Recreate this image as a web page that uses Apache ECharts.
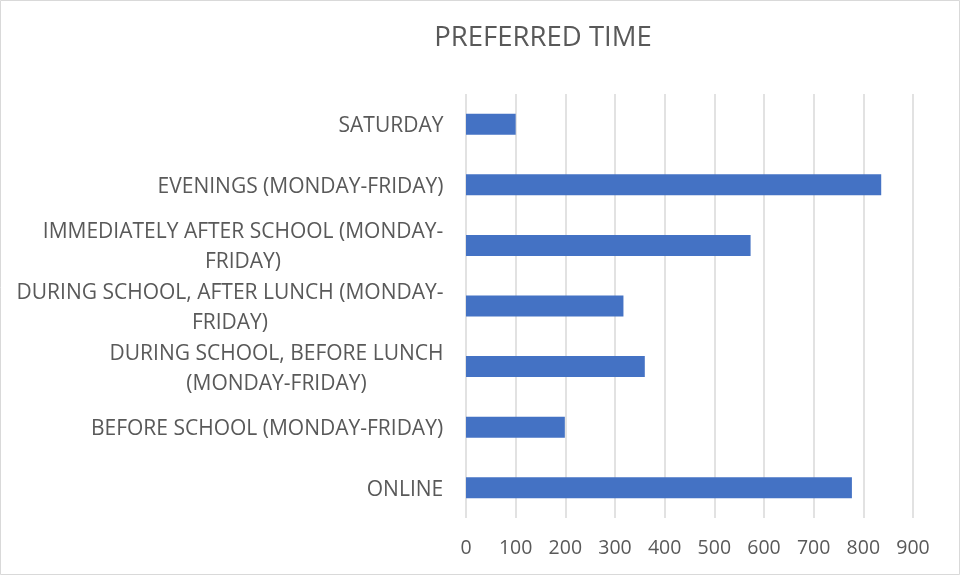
<!DOCTYPE html>
<html><head><meta charset="utf-8">
<script src="https://cdn.jsdelivr.net/npm/echarts@6/dist/echarts.min.js"></script>
<style>html,body{margin:0;padding:0;background:#fff}#c{width:961px;height:576px}</style>
</head><body><div id="c"></div>
<script>
const categories = [
  "ONLINE",
  "BEFORE SCHOOL (MONDAY-FRIDAY)",
  "DURING SCHOOL, BEFORE LUNCH\n(MONDAY-FRIDAY)",
  "DURING SCHOOL, AFTER LUNCH (MONDAY-\nFRIDAY)",
  "IMMEDIATELY AFTER SCHOOL (MONDAY-\nFRIDAY)",
  "EVENINGS (MONDAY-FRIDAY)",
  "SATURDAY"
];
const values = [777, 199, 360, 317, 573, 836, 100];
const xTicks = { min: 0, max: 900, interval: 100 };
const titleText = "PREFERRED TIME";

const font = "'Open Sans', Lato, sans-serif";
const labelSize = 21;
const ctx = document.createElement('canvas').getContext('2d');
ctx.font = labelSize + "px 'Open Sans'";
const rich = {};
categories.forEach((c, i) => {
  const w = Math.max(...c.split('\n').map(l => ctx.measureText(l).width));
  rich['c' + i] = {width: Math.ceil(w) + 1, align: 'center', fontFamily: font,
    fontSize: labelSize, color: '#595959', lineHeight: 30};
});

const chart = echarts.init(document.getElementById('c'), null, {renderer: 'canvas'});
chart.setOption({
  animation: false,
  backgroundColor: '#fff',
  graphic: [{type: 'rect', shape: {x: 0.5, y: 0.5, width: 959, height: 574},
    style: {fill: 'none', stroke: '#d9d9d9', lineWidth: 1}}],
  title: {
    text: titleText, left: 538, top: 19, textAlign: 'center',
    textStyle: {fontFamily: font, fontSize: 27.5, fontWeight: 'normal', color: '#595959'}
  },
  grid: {left: 466, right: 48, top: 94, bottom: 58, containLabel: false},
  xAxis: {
    type: 'value', min: xTicks.min, max: xTicks.max, interval: xTicks.interval,
    axisLine: {show: false}, axisTick: {show: false},
    splitLine: {lineStyle: {color: '#d9d9d9', width: 1.5}},
    axisLabel: {fontFamily: font, fontSize: 19.5, color: '#595959', margin: 20}
  },
  yAxis: {
    type: 'category', data: categories,
    axisLine: {show: false}, axisTick: {show: false},
    axisLabel: {fontFamily: font, fontSize: labelSize, color: '#595959', margin: 22,
      align: 'right', lineHeight: 30, rich: rich, padding: [4, 0, 0, 0],
      formatter: (v, i) => v.split('\n').map(l => '{c' + i + '|' + l + '}').join('\n')}
  },
  series: [{
    type: 'bar', data: values, barWidth: 21,
    itemStyle: {color: '#4472c4'}
  }]
});
</script></body></html>
